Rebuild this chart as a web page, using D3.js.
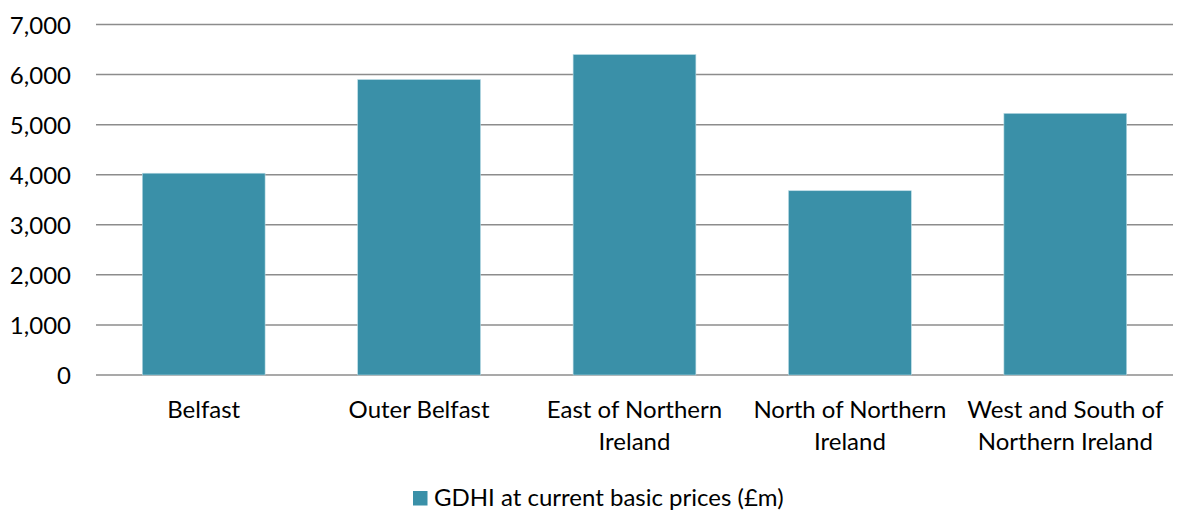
<!DOCTYPE html>
<html>
<head>
<meta charset="utf-8">
<script src="https://cdn.jsdelivr.net/npm/d3@7"></script>
<style>
  html, body { margin: 0; padding: 0; background: #fff; }
  svg { display: block; }
  text { font-family: Lato, "Open Sans", sans-serif; fill: #000; }
</style>
</head>
<body>
<svg id="chart" width="1181" height="513"></svg>
<script>
const categories = [
  ["Belfast"],
  ["Outer Belfast"],
  ["East of Northern", "Ireland"],
  ["North of Northern", "Ireland"],
  ["West and South of", "Northern Ireland"]
];
const values = [4030, 5900, 6400, 3680, 5225];
const yTicks = [0, 1000, 2000, 3000, 4000, 5000, 6000, 7000];
const seriesName = "GDHI at current basic prices (£m)";

const plotLeft = 96, plotRight = 1173, plotTop = 24.5, plotBottom = 375;
const barColor = "#3A90A8";
const gridColor = "#8c8c8c";
const fontSize = 24;

const svg = d3.select("#chart");

const x = d3.scaleBand()
  .domain(d3.range(categories.length))
  .range([plotLeft, plotRight])
  .paddingInner(0.43)
  .paddingOuter(0.215);

const y = d3.scaleLinear().domain([0, 7000]).range([plotBottom, plotTop]);

// gridlines
svg.append("g")
  .selectAll("line")
  .data(yTicks)
  .join("line")
  .attr("x1", plotLeft).attr("x2", plotRight)
  .attr("y1", d => y(d)).attr("y2", d => y(d))
  .attr("stroke", gridColor)
  .attr("stroke-width", 1.5);

// y axis labels
const yAxis = d3.axisLeft(y)
  .tickValues(yTicks)
  .tickFormat(d3.format(","))
  .tickSize(0)
  .tickPadding(0);
const yg = svg.append("g").attr("transform", `translate(71,0)`).call(yAxis);
yg.select(".domain").remove();
yg.selectAll("text")
  .style("font-family", "Lato, 'Open Sans', sans-serif")
  .style("font-size", fontSize + "px")
  .attr("fill", "#000")
  .attr("dy", "0.36em");

// bars
svg.append("g")
  .selectAll("rect")
  .data(values)
  .join("rect")
  .attr("x", (d, i) => x(i))
  .attr("width", x.bandwidth())
  .attr("y", d => y(d))
  .attr("height", d => y(0) - y(d))
  .attr("fill", barColor)
  .attr("stroke", "#b9dbe4")
  .attr("stroke-width", 0.6);

// x labels
const xl = svg.append("g")
  .selectAll("text")
  .data(categories)
  .join("text")
  .attr("x", (d, i) => x(i) + x.bandwidth() / 2)
  .attr("y", 418)
  .attr("text-anchor", "middle")
  .style("font-size", fontSize + "px");
xl.selectAll("tspan")
  .data(d => d)
  .join("tspan")
  .attr("x", function () { return this.parentNode.getAttribute("x"); })
  .attr("dy", (d, i) => i === 0 ? 0 : 32)
  .text(d => d);

// legend
const lg = svg.append("g");
lg.append("rect")
  .attr("x", 413).attr("y", 491)
  .attr("width", 14.5).attr("height", 14.5)
  .attr("fill", barColor);
lg.append("text")
  .attr("x", 434).attr("y", 506)
  .style("font-size", fontSize + "px")
  .text(seriesName);
</script>
</body>
</html>
